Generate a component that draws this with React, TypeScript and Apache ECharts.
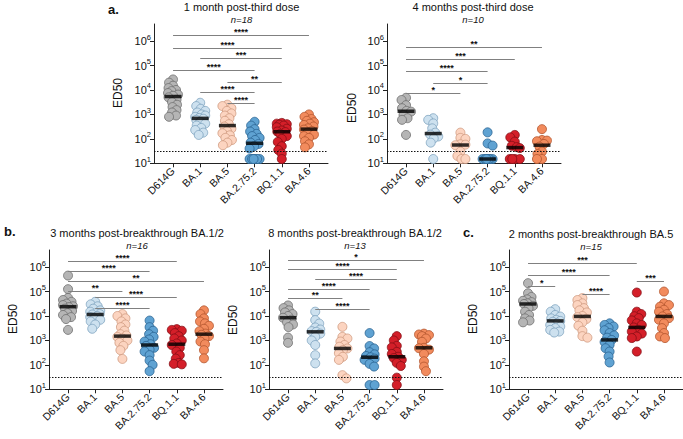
import React, { useEffect, useRef } from 'react';
import * as echarts from 'echarts';

const FONT = '"Liberation Sans", Arial, Helvetica, sans-serif';

const categories = ['D614G', 'BA.1', 'BA.5', 'BA.2.75.2', 'BQ.1.1', 'BA.4.6'];
const yTickExponents = [1, 2, 3, 4, 5, 6];
const LOD = 30;

const fills = ['#b5b5b5', '#cde1ef', '#fcd4c0', '#5fa2d2', '#d41f29', '#f28b5d'];
const borders = ['#6e6e6e', '#7fa3bf', '#cf9a80', '#2a6392', '#850f15', '#b3552e'];

// ---- a: 1 month post-third dose (n=18)
const a1D614G = [27000, 20000, 15000, 12000, 10000, 9000, 7500, 6500, 5800, 5000, 4000, 3200, 2500, 2000, 1500, 1200, 900, 800];
const a1BA1 = [3000, 2200, 1700, 1400, 1200, 1000, 900, 800, 720, 670, 600, 500, 420, 350, 280, 230, 180, 145];
const a1BA5 = [2500, 2200, 1800, 1400, 1100, 900, 700, 550, 400, 320, 260, 210, 170, 140, 110, 90, 70, 55];
const a1BA2752 = [500, 350, 250, 200, 160, 130, 110, 90, 70, 62, 50, 40, 15, 15, 15, 15, 15, 15];
const a1BQ11 = [450, 420, 400, 380, 350, 300, 260, 220, 200, 190, 160, 130, 100, 75, 50, 35, 25, 15];
const a1BA46 = [1000, 800, 650, 550, 480, 420, 370, 320, 270, 240, 210, 180, 150, 130, 110, 80, 60, 45];
const a1Medians = [5400, 690, 350, 66, 195, 250];
const a1Brackets: [number, number, number, string][] = [
  [0, 5, 1.8e6, '****'], [0, 4, 5.0e5, '****'], [1, 4, 1.95e5, '***'], [0, 3, 6.5e4, '****'],
  [2, 4, 2.2e4, '**'], [1, 3, 8.5e3, '****'], [2, 3, 3.0e3, '****'],
];

// ---- a: 4 months post-third dose (n=10)
const a2D614G = [4800, 3900, 2400, 1800, 1400, 1300, 950, 700, 600, 145];
const a2BA1 = [700, 600, 430, 270, 180, 150, 125, 105, 70, 15];
const a2BA5 = [180, 110, 100, 60, 58, 55, 30, 20, 15, 15];
const a2BA2752 = [185, 65, 53, 15, 15, 15, 15, 15, 15, 15];
const a2BQ11 = [145, 115, 77, 52, 46, 42, 15, 15, 15, 15];
const a2BA46 = [250, 90, 85, 80, 62, 48, 30, 24, 15, 15];
const a2Medians = [1350, 165, 56, 15, 44, 55];
const a2Brackets: [number, number, number, string][] = [
  [0, 5, 5.5e5, '**'], [0, 4, 1.8e5, '***'], [0, 3, 6.2e4, '****'], [1, 3, 2.0e4, '*'], [0, 2, 7.4e3, '*'],
];

// ---- b: 3 months post-breakthrough BA.1/2 (n=16)
const b1D614G = [450000, 125000, 55000, 45000, 38000, 32000, 28000, 25000, 23000, 20000, 16000, 13000, 11000, 9000, 7500, 2700];
const b1BA1 = [38000, 30000, 25000, 20000, 17000, 15000, 13000, 12000, 11500, 10000, 9000, 8000, 7000, 6000, 4500, 3000];
const b1BA5 = [12000, 10000, 8000, 6000, 4500, 3500, 2500, 1800, 1600, 1400, 1200, 1000, 800, 600, 400, 175];
const b1BA2752 = [6500, 3500, 2500, 1800, 1400, 1100, 900, 700, 600, 500, 420, 350, 250, 150, 100, 55];
const b1BQ11 = [2900, 2700, 2500, 2000, 1500, 1200, 1000, 750, 650, 500, 350, 250, 180, 120, 110, 105];
const b1BA46 = [17000, 12000, 8000, 6000, 5000, 4000, 3000, 2400, 1900, 1700, 1500, 1200, 900, 700, 400, 185];
const b1Medians = [24000, 11500, 1500, 650, 700, 1800];
const b1Brackets: [number, number, number, string][] = [
  [0, 4, 1.85e6, '****'], [0, 3, 6.9e5, '****'], [0, 5, 2.75e5, '**'], [0, 2, 1.07e5, '**'],
  [1, 4, 5.9e4, '****'], [1, 3, 2.2e4, '****'],
];

// ---- b: 8 months post-breakthrough BA.1/2 (n=13)
const b2D614G = [27000, 21000, 17000, 14000, 12000, 10000, 8500, 7000, 5500, 4500, 3500, 1300, 800];
const b2BA1 = [15000, 6800, 4900, 3400, 2800, 2400, 2250, 1900, 1400, 1000, 650, 250, 115];
const b2BA5 = [3600, 1400, 1200, 900, 650, 550, 470, 400, 300, 215, 160, 38, 28];
const b2BA2752 = [2000, 590, 470, 330, 270, 230, 205, 180, 160, 110, 85, 15, 15];
const b2BQ11 = [1500, 1000, 600, 520, 340, 280, 215, 190, 160, 120, 90, 30, 15];
const b2BA46 = [1900, 1750, 1650, 1500, 1200, 880, 500, 480, 420, 280, 140, 85, 55];
const b2Medians = [8500, 2250, 470, 205, 215, 500];
const b2Brackets: [number, number, number, string][] = [
  [0, 5, 2.0e6, '*'], [0, 4, 8.1e5, '****'], [1, 4, 3.4e5, '****'], [0, 3, 1.3e5, '****'],
  [0, 2, 5.5e4, '**'], [1, 3, 2.0e4, '****'],
];

// ---- c: 2 months post-breakthrough BA.5 (n=15)
const cD614G = [220000, 85000, 60000, 48000, 42000, 37000, 33000, 31000, 26000, 21000, 15000, 11000, 8000, 6500, 5500];
const cBA1 = [19000, 15000, 11000, 9500, 8000, 7000, 6300, 5800, 5000, 4300, 3700, 3200, 2700, 2300, 2100];
const cBA5 = [54000, 45000, 33000, 28000, 21000, 17000, 14000, 10000, 9000, 7500, 5500, 4000, 2500, 1500, 1300];
const cBA2752 = [5000, 4300, 3700, 3200, 2600, 2000, 1600, 1300, 1050, 860, 660, 480, 350, 220, 125];
const cBQ11 = [91000, 15000, 12000, 9800, 8200, 6600, 5000, 4300, 3400, 2700, 2300, 1900, 1450, 1250, 350];
const cBA46 = [100000, 33000, 28000, 24000, 18000, 15000, 12000, 9600, 8200, 7000, 5000, 3200, 2000, 1450, 1250];
const cMedians = [31000, 6300, 9600, 1050, 3400, 9600];
const cBrackets: [number, number, number, string][] = [
  [0, 4, 1.45e6, '***'], [0, 3, 4.9e5, '****'], [0, 1, 1.7e5, '*'], [4, 5, 2.8e5, '***'], [2, 3, 8.1e4, '****'],
];

// ---- layout
const GW = 174;
const GH = 139.3;
const X_MIN = -0.7;
const X_MAX = 5.7;
const Y_MIN = 1;
const Y_MAX = 6.7;

const panels = [
  { left: 154, top: 24, title: '1 month post-third dose', n: 'n=18', tx: 241.5, ty: 7, ny: 19, ex: 118, ey: 93,
    values: [a1D614G, a1BA1, a1BA5, a1BA2752, a1BQ11, a1BA46], medians: a1Medians, brackets: a1Brackets },
  { left: 387, top: 24, title: '4 months post-third dose', n: 'n=10', tx: 473, ty: 7, ny: 19, ex: 352, ey: 108,
    values: [a2D614G, a2BA1, a2BA5, a2BA2752, a2BQ11, a2BA46], medians: a2Medians, brackets: a2Brackets },
  { left: 49, top: 250, title: '3 months post-breakthrough BA.1/2', n: 'n=16', tx: 137, ty: 233, ny: 245, ex: 13, ey: 319,
    values: [b1D614G, b1BA1, b1BA5, b1BA2752, b1BQ11, b1BA46], medians: b1Medians, brackets: b1Brackets },
  { left: 269, top: 250, title: '8 months post-breakthrough BA.1/2', n: 'n=13', tx: 355, ty: 233, ny: 245, ex: 233, ey: 320,
    values: [b2D614G, b2BA1, b2BA5, b2BA2752, b2BQ11, b2BA46], medians: b2Medians, brackets: b2Brackets },
  { left: 509, top: 250, title: '2 months post-breakthrough BA.5', n: 'n=15', tx: 591, ty: 234, ny: 246, ex: 473, ey: 319,
    values: [cD614G, cBA1, cBA5, cBA2752, cBQ11, cBA46], medians: cMedians, brackets: cBrackets },
];

const letters = [
  { t: 'a.', x: 108, y: 9 },
  { t: 'b.', x: 4, y: 231 },
  { t: 'c.', x: 463, y: 232 },
];

// deterministic beeswarm layout (pixel space) -> offsets in category units
function swarm(values: number[], pxPerUnitX: number, pxPerDecade: number, d: number, maxOff: number): number[] {
  const order = values.map((_, i) => i).sort((a, b) => values[b] - values[a]);
  const placed: { x: number; y: number }[] = [];
  const offs = new Array(values.length).fill(0);
  const cands: number[] = [0];
  for (let s = 0.5; s <= maxOff + 1e-9; s += 0.5) cands.push(s, -s);
  let flip = 1;
  for (const i of order) {
    const y = Math.log10(values[i]) * pxPerDecade;
    let chosen: number | null = null;
    let best = 0;
    let bestScore = -1;
    for (const c0 of cands) {
      const c = c0 * flip;
      let m = Infinity;
      for (const p of placed) {
        const dd = Math.hypot(p.x - c, p.y - y);
        if (dd < m) m = dd;
      }
      if (m >= d) { chosen = c; break; }
      if (m > bestScore) { bestScore = m; best = c; }
    }
    const x = chosen !== null ? chosen : best;
    placed.push({ x, y });
    offs[i] = x / pxPerUnitX;
    flip = -flip;
  }
  return offs;
}

function buildOption() {
  const pxX = GW / (X_MAX - X_MIN);
  const pxY = GH / (Y_MAX - Y_MIN);
  const series: any[] = [];
  panels.forEach((p, pi) => {
    p.values.forEach((vals, k) => {
      const offs = swarm(vals, pxX, pxY, 5, 5);
      series.push({
        type: 'scatter',
        name: categories[k],
        xAxisIndex: pi,
        yAxisIndex: pi,
        symbol: 'circle',
        symbolSize: 9,
        itemStyle: { color: fills[k], borderColor: borders[k], borderWidth: 0.8, opacity: 1 },
        data: vals.map((v, i) => [k + offs[i], Math.log10(v)]),
        z: 2,
      });
    });
    series.push({
      type: 'scatter',
      name: 'median',
      xAxisIndex: pi,
      yAxisIndex: pi,
      symbol: 'rect',
      symbolSize: [17, 3.5],
      itemStyle: { color: '#000' },
      data: p.medians.map((m, k) => [k, Math.log10(m)]),
      z: 4,
      markLine: {
        silent: true,
        symbol: 'none',
        label: { show: false },
        lineStyle: { type: [1.5, 1.5], color: '#111', width: 1.2 },
        data: [{ yAxis: Math.log10(LOD) }],
      },
    });
    const br = p.brackets;
    series.push({
      type: 'custom',
      xAxisIndex: pi,
      yAxisIndex: pi,
      clip: false,
      z: 3,
      itemStyle: { color: '#111' },
      encode: { x: [0, 1], y: 2 },
      data: br.map((b) => [b[0], b[1], Math.log10(b[2])]),
      renderItem: (params: any, api: any) => {
        const p1 = api.coord([api.value(0), api.value(2)]);
        const p2 = api.coord([api.value(1), api.value(2)]);
        const stars = br[params.dataIndex][3];
        const ly = Math.round(p1[1]) + 0.5;
        return {
          type: 'group',
          children: [
            {
              type: 'line',
              shape: { x1: p1[0], y1: ly, x2: p2[0], y2: ly },
              style: { stroke: '#808080', lineWidth: 1 },
            },
            {
              type: 'text',
              x: (p1[0] + p2[0]) / 2,
              y: ly - 3.5,
              style: {
                text: stars, fontSize: 9, fontWeight: 'bold', fontFamily: FONT, fill: '#111', textFill: '#111',
                align: 'center', verticalAlign: 'middle', textAlign: 'center', textVerticalAlign: 'middle',
              },
            },
          ],
        };
      },
    });
  });

  const graphics: any[] = [];
  panels.forEach((p) => {
    graphics.push({
      type: 'text', x: p.tx, y: p.ty,
      style: { text: p.title, fontSize: 11, fontFamily: FONT, fill: '#111', align: 'center', verticalAlign: 'middle', textAlign: 'center', textVerticalAlign: 'middle' },
    });
    graphics.push({
      type: 'text', x: p.tx, y: p.ny,
      style: { text: p.n, fontSize: 9.5, fontStyle: 'italic', fontFamily: FONT, fill: '#111', align: 'center', verticalAlign: 'middle', textAlign: 'center', textVerticalAlign: 'middle' },
    });
    graphics.push({
      type: 'text', x: p.ex, y: p.ey, rotation: Math.PI / 2,
      style: { text: 'ED50', fontSize: 12, fontFamily: FONT, fill: '#111', align: 'center', verticalAlign: 'middle', textAlign: 'center', textVerticalAlign: 'middle' },
    });
  });
  letters.forEach((l) => {
    graphics.push({
      type: 'text', x: l.x, y: l.y,
      style: { text: l.t, fontSize: 13, fontWeight: 'bold', fontFamily: FONT, fill: '#111', align: 'left', verticalAlign: 'middle', textAlign: 'left', textVerticalAlign: 'middle' },
    });
  });

  return {
    animation: false,
    backgroundColor: '#ffffff',
    textStyle: { fontFamily: FONT },
    grid: panels.map((p) => ({ left: p.left, top: p.top, width: GW, height: GH })),
    xAxis: panels.map((_, i) => ({
      type: 'value',
      gridIndex: i,
      min: X_MIN,
      max: X_MAX,
      splitLine: { show: false },
      axisLine: { show: true, onZero: false, lineStyle: { color: '#222', width: 1 } },
      axisTick: { show: true, length: 4, customValues: [0, 1, 2, 3, 4, 5], lineStyle: { color: '#222' } },
      axisLabel: {
        customValues: [0, 1, 2, 3, 4, 5],
        formatter: (v: number) => categories[Math.round(v)] || '',
        rotate: 45, fontSize: 10.5, color: '#111', margin: 6, fontFamily: FONT,
      },
    })),
    yAxis: panels.map((_, i) => ({
      type: 'value',
      gridIndex: i,
      min: Y_MIN,
      max: Y_MAX,
      splitLine: { show: false },
      axisLine: { show: true, onZero: false, lineStyle: { color: '#222', width: 1 } },
      axisTick: { show: true, length: 4, customValues: yTickExponents, lineStyle: { color: '#222' } },
      axisLabel: {
        customValues: yTickExponents,
        formatter: (v: number) => `{b|10}{s|${Math.round(v)}}`,
        margin: 3,
        rich: {
          b: { fontSize: 11, lineHeight: 16, color: '#111', fontFamily: FONT },
          s: { fontSize: 7.5, lineHeight: 8, verticalAlign: 'top', color: '#111', fontFamily: FONT },
        },
      },
    })),
    series,
    graphic: { elements: graphics },
  };
}

export default function App() {
  const ref = useRef<HTMLDivElement>(null);
  useEffect(() => {
    if (!ref.current) return;
    const chart = echarts.init(ref.current, undefined, { renderer: 'svg' });
    chart.setOption(buildOption() as any);
    return () => chart.dispose();
  }, []);
  return <div ref={ref} style={{ position: 'absolute', left: 0, top: 0, width: 683, height: 439 }} />;
}
